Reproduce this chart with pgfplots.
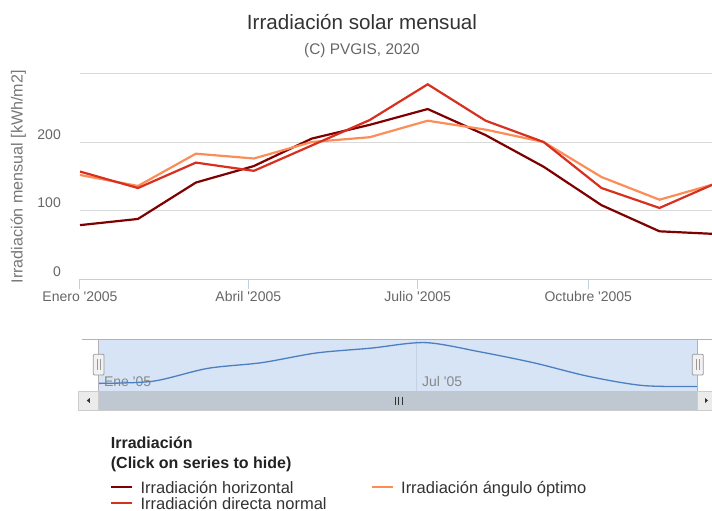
\documentclass[border=0pt]{standalone}
\usepackage{pgfplots}
\pgfplotsset{compat=1.18}
\usepackage{fontspec}
\setmainfont{Liberation Sans}
\definecolor{cH}{HTML}{7F0000}
\definecolor{cD}{HTML}{D7301F}
\definecolor{cO}{HTML}{FC8D59}
\definecolor{gridc}{HTML}{D9D9D9}
\definecolor{axisblue}{HTML}{C0D0E0}
\definecolor{c333}{HTML}{333333}
\definecolor{c222}{HTML}{222222}
\definecolor{c666}{HTML}{666666}
\definecolor{c777}{HTML}{777777}
\definecolor{c888}{HTML}{888888}
\definecolor{navfill}{HTML}{D6E4F5}
\definecolor{navline}{HTML}{4D7FC0}
\definecolor{navgrid}{HTML}{C4D2E4}
\definecolor{navout}{HTML}{B2B1B6}
\definecolor{track}{HTML}{BFC7D1}
\definecolor{btn}{HTML}{EBEBEB}
\definecolor{btnb}{HTML}{CCCCCC}
\definecolor{hdl}{HTML}{F2F2F2}
\definecolor{hdlb}{HTML}{999999}
\newcommand{\q}{\textquotesingle}
\begin{document}
\begin{tikzpicture}
\useasboundingbox (0,0) rectangle (712pt,-511pt);
% titles
\node[anchor=base, inner sep=0pt, font=\fontsize{20.6}{24}\selectfont, text=c333] at (362pt,-29.3pt) {Irradiación solar mensual};
\node[anchor=base, inner sep=0pt, font=\fontsize{15.4}{18}\selectfont, text=c666] at (362pt,-55pt) {(C) PVGIS, 2020};
% navigator background
\fill[navfill] (98.7pt,-339.3pt) rectangle (697.3pt,-391pt);
\begin{axis}[
  at={(80pt,-279.4pt)}, anchor=south west,
  width=632pt, height=206.1pt, scale only axis,
  xmin=0, xmax=10.906, ymin=0, ymax=300,
  axis line style={draw=none},
  tick align=outside, major tick length=10pt,
  xtick pos=bottom,
  xtick={0,2.904,5.827,8.771},
  xticklabels={{Enero \q2005},{Abril \q2005},{Julio \q2005},{Octubre \q2005}},
  xtick style={draw=axisblue, line width=1pt},
  ytick={0,100,200,300},
  yticklabels={0,100,200,{}},
  ytick style={draw=none},
  ymajorgrids, grid style={draw=gridc, line width=1pt},
  extra y ticks={0}, extra y tick labels={},
  extra y tick style={ytick style={draw=none}, grid style={draw=axisblue, line width=1pt}},
  xticklabel style={font=\fontsize{14}{16}\selectfont, text=c666, anchor=base, inner sep=0pt, yshift=-11.9pt},
  yticklabel style={font=\fontsize{14}{16}\selectfont, text=c666, anchor=base east, inner sep=0pt, xshift=-9pt, yshift=3pt},
  ylabel={Irradiación mensual [kWh/m2]},
  ylabel style={at={(axis description cs:-0.0976,0.498)}, anchor=center, font=\fontsize{16.1}{18}\selectfont, text=c777, inner sep=0pt},
  legend columns=2,
  legend cell align=left,
  legend image code/.code={\draw[#1, line width=2.4pt] (0pt,2pt) -- (20.7pt,2pt);},
  legend style={at={(axis description cs:0.04747,-0.9796)}, anchor=north west, draw=none, fill=none,
    inner sep=0pt, outer sep=0pt, row sep=0pt,
    font=\fontsize{16.5}{18}\selectfont, text=c333,
    nodes={inner sep=0pt, outer sep=0pt, text height=12pt, text depth=3.8pt},
    /tikz/every odd column/.append style={column sep=7.4pt},
    /tikz/every even column/.append style={column sep=44pt}},
]
\addplot[cH, line width=2.2pt] coordinates {(0,79)(1,88)(2,141)(3,165)(4,205)(5,225)(6,248)(7,210)(8,164)(9,108)(10,70)(11,66)};
\addlegendentry{Irradiación horizontal}
\addplot[cO, line width=2.2pt] coordinates {(0,152)(1,136)(2,183)(3,176)(4,200)(5,207)(6,231)(7,218)(8,200)(9,149)(10,116)(11,140)};
\addlegendentry{Irradiación ángulo óptimo}
\addplot[cD, line width=2.2pt] coordinates {(0,157)(1,133)(2,170)(3,158)(4,195)(5,232)(6,284)(7,231)(8,200)(9,133)(10,104)(11,141)};
\addlegendentry{Irradiación directa normal}
\end{axis}
% navigator
\begin{axis}[
  at={(98.7pt,-391pt)}, anchor=south west,
  width=598.6pt, height=51.7pt, scale only axis,
  xmin=0, xmax=11, ymin=47.3, ymax=261.7,
  axis line style={draw=none}, tick style={draw=none},
  ytick=\empty,
  xtick={0,5.843}, xticklabels={{Ene \q05},{Jul \q05}},
  xmajorgrids, grid style={draw=navgrid, line width=0.8pt},
  xticklabel style={anchor=base west, inner sep=0pt, font=\fontsize{14}{16}\selectfont, text=c888, xshift=5.2pt, yshift=4.5pt},
  clip=false,
]
\addplot[navline, line width=1.3pt, smooth] coordinates {(0,79)(1,88)(2,141)(3,165)(4,205)(5,225)(6,248)(7,210)(8,164)(9,108)(10,70)(11,66)};
\end{axis}
% navigator outline
\draw[navout, line width=0.8pt] (81.7pt,-339.3pt) -- (712pt,-339.3pt);
\draw[navout, line width=0.8pt] (98.7pt,-339.3pt) -- (98.7pt,-391pt);
\draw[navout, line width=0.8pt] (697.3pt,-339.3pt) -- (697.3pt,-391pt);
% scrollbar
\fill[track] (98.7pt,-391pt) rectangle (697.3pt,-410pt);
\filldraw[fill=btn, draw=btnb, line width=0.8pt] (78.3pt,-391pt) rectangle (98.7pt,-410pt);
\filldraw[fill=btn, draw=btnb, line width=0.8pt] (697.3pt,-391pt) rectangle (716pt,-410pt);
\fill[c333] (86.8pt,-400.5pt) -- (89.8pt,-398pt) -- (89.8pt,-403pt) -- cycle;
\fill[c333] (708pt,-400.5pt) -- (705pt,-398pt) -- (705pt,-403pt) -- cycle;
\draw[btnb, line width=0.8pt] (78.3pt,-410pt) -- (712pt,-410pt);
\foreach \gx in {395.5,398.8,402.1} \draw[c333, line width=0.9pt] (\gx pt,-396.5pt) -- (\gx pt,-404.5pt);
% handles
\filldraw[fill=hdl, draw=hdlb, line width=0.8pt, rounded corners=1pt] (93.3pt,-354.3pt) rectangle (104pt,-375pt);
\filldraw[fill=hdl, draw=hdlb, line width=0.8pt, rounded corners=1pt] (692.3pt,-354.3pt) rectangle (703.3pt,-375pt);
\foreach \gx in {97.5,99.8,696.5,698.8} \draw[hdlb, line width=0.6pt] (\gx pt,-359pt) -- (\gx pt,-370pt);
% legend title
\node[anchor=base west, inner sep=0pt, font=\bfseries\fontsize{16}{18}\selectfont, text=c222] at (110.7pt,-448pt) {Irradiación};
\node[anchor=base west, inner sep=0pt, font=\bfseries\fontsize{16}{18}\selectfont, text=c222] at (110.7pt,-468.3pt) {(Click on series to hide)};
\end{tikzpicture}
\end{document}
